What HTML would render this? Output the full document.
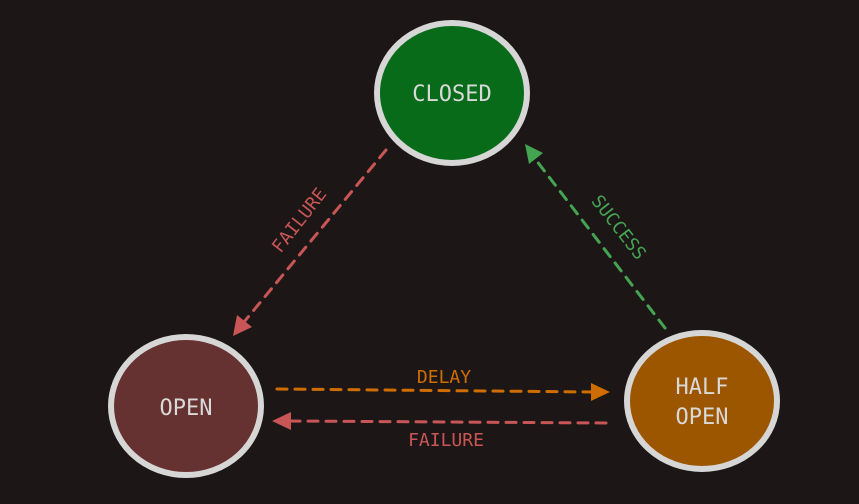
<!DOCTYPE html>
<html><head><style>html,body{margin:0;padding:0;background:#1c1716;}svg{display:block}</style></head>
<body>
<svg width="859" height="504" viewBox="0 0 859 504" xmlns="http://www.w3.org/2000/svg">
<rect width="859" height="504" fill="#1c1716"/>
<g stroke="#d6d6d6" stroke-width="6">
<ellipse cx="452" cy="93" rx="75" ry="70" fill="#086b1a"/>
<ellipse cx="186" cy="406" rx="75" ry="69" fill="#663131"/>
<ellipse cx="702" cy="401" rx="75" ry="68" fill="#9c5600"/>
</g>
<g font-family="'DejaVu Sans Mono','Liberation Mono',monospace" fill="#d9d9d9" font-size="22" text-anchor="middle">
<text x="452" y="101">CLOSED</text>
<text x="186" y="415">OPEN</text>
<text x="702" y="394">HALF</text>
<text x="702" y="424">OPEN</text>
</g>
<g fill="none" stroke-width="3" stroke-dasharray="10 8" stroke-linecap="round">
<line x1="386" y1="150" x2="244" y2="322" stroke="#c85656"/>
<line x1="665" y1="328" x2="536" y2="160" stroke="#44a452"/>
<line x1="277" y1="389" x2="594" y2="392" stroke="#cf6d00"/>
<line x1="606" y1="423" x2="290" y2="421" stroke="#c85656"/>
</g>
<polygon points="233,336 237,315 252,327" fill="#c85656"/>
<polygon points="525,144 543,153 529,164" fill="#44a452"/>
<polygon points="610,392 591,383 591,401" fill="#cf6d00"/>
<polygon points="272,421 291,412 291,430" fill="#c85656"/>
<g font-family="'DejaVu Sans Mono','Liberation Mono',monospace" font-size="18" text-anchor="middle">
<text x="0" y="0" fill="#c85656" transform="translate(304,224) rotate(-52)">FAILURE</text>
<text x="0" y="0" fill="#44a452" transform="translate(614,231) rotate(52)">SUCCESS</text>
<text x="444" y="383" fill="#cf6d00">DELAY</text>
<text x="446" y="446" fill="#c85656">FAILURE</text>
</g>
</svg>
</body></html>
